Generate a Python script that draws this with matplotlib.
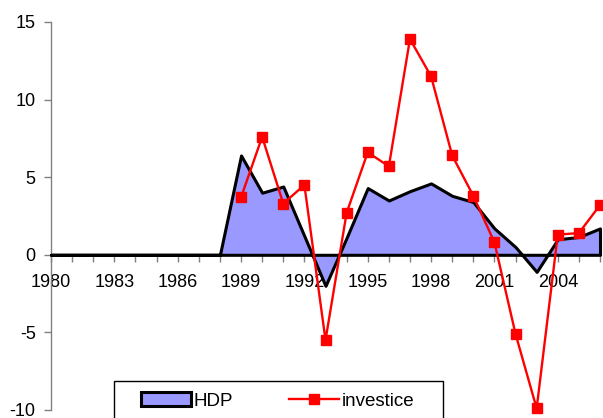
import matplotlib.pyplot as plt
from matplotlib.patches import Rectangle

plt.rcParams['font.family'] = ['Liberation Sans', 'DejaVu Sans']
plt.rcParams['axes.unicode_minus'] = False

years = [1980, 1981, 1982, 1983, 1984, 1985, 1986, 1987, 1988, 1989,
         1990, 1991, 1992, 1993, 1994, 1995, 1996, 1997, 1998, 1999,
         2000, 2001, 2002, 2003, 2004, 2005, 2006]
hdp = [0, 0, 0, 0, 0, 0, 0, 0, 0, 6.4,
       4.0, 4.4, 1.2, -2.0, 1.1, 4.3, 3.5, 4.1, 4.6, 3.8,
       3.4, 1.7, 0.5, -1.1, 1.0, 1.15, 1.7]

inv_years = [1989, 1990, 1991, 1992, 1993, 1994, 1995, 1996, 1997,
             1998, 1999, 2000, 2001, 2002, 2003, 2004, 2005, 2006]
investice = [3.7, 7.6, 3.3, 4.5, -5.5, 2.7, 6.6, 5.7, 13.9,
             11.5, 6.4, 3.8, 0.8, -5.1, -9.9, 1.3, 1.4, 3.2]

label_years = [1980, 1983, 1986, 1989, 1992, 1995, 1998, 2001, 2004]

W, H = 603, 418
fig = plt.figure(figsize=(W / 100, H / 100), dpi=100)
ax = fig.add_axes([51 / W, 1 - 410 / H, 549 / W, 388 / H])

# area for HDP, outline goes around the whole polygon incl. baseline
ax.fill_between(years, hdp, 0, facecolor='#9999ff', edgecolor='black',
                linewidth=2.2, zorder=2.6, label='HDP', clip_on=False)
ax.plot(inv_years, investice, color='#ff0000', linewidth=1.7, marker='s',
        markersize=7, zorder=3, label='investice', clip_on=False)

ax.set_xlim(1980, 2006)
ax.set_ylim(-10, 15)

for s in ['top', 'right']:
    ax.spines[s].set_visible(False)
ax.spines['bottom'].set_position(('data', 0))
ax.spines['bottom'].set_color('#808080')
ax.spines['left'].set_color('#808080')
ax.spines['left'].set_linewidth(1)

ax.set_xticks(years)
ax.set_xticklabels([str(y) if y in label_years else '' for y in years])
ax.set_yticks([-10, -5, 0, 5, 10, 15])
ax.tick_params(axis='both', colors='#808080', labelcolor='black',
               labelsize=13, direction='out', length=5, width=1)
ax.tick_params(axis='x', pad=9)
ax.tick_params(axis='y', pad=6)

# legend box
box = Rectangle((114 / W, 1 - 422 / H), 329 / W, 41 / H, transform=fig.transFigure,
                facecolor='white', edgecolor='black', linewidth=1, zorder=10)
fig.add_artist(box)
h, l = ax.get_legend_handles_labels()
leg = fig.legend(h, l, ncol=2, frameon=False, fontsize=13.5,
                 loc='center left', bbox_to_anchor=(141 / W, 1 - 401 / H),
                 handlelength=2.65, handletextpad=0.15, columnspacing=3.0,
                 borderpad=0, borderaxespad=0)
leg.set_zorder(11)

fig.savefig('out.png', dpi=100)
